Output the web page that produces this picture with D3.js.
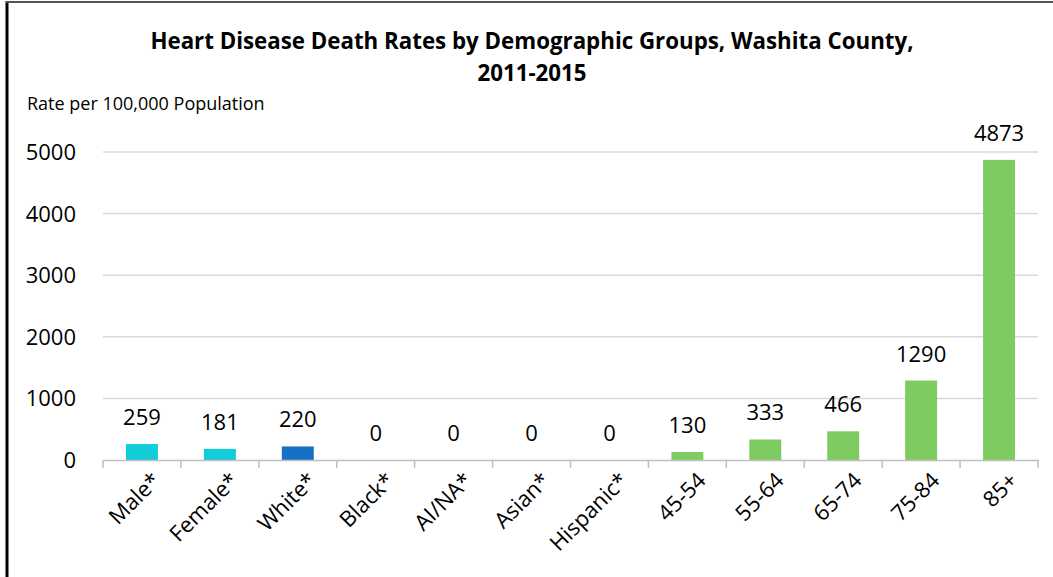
<!DOCTYPE html>
<html>
<head>
<meta charset="utf-8">
<script src="https://cdnjs.cloudflare.com/ajax/libs/d3/7.8.5/d3.min.js"></script>
<style>
body{margin:0;background:#fff;}
svg{display:block;font-family:"Open Sans",sans-serif;}
</style>
</head>
<body>
<div id="chart"></div>
<script>
// data
var categories=["Male*","Female*","White*","Black*","AI/NA*","Asian*","Hispanic*","45-54","55-64","65-74","75-84","85+"];
var rates=[259,181,220,0,0,0,0,130,333,466,1290,4873];
var groups=["sex","sex","race","race","race","race","race","age","age","age","age","age"];
var yTicks=[0,1000,2000,3000,4000,5000];
var titleLines=["Heart Disease Death Rates by Demographic Groups, Washita County,","2011-2015"];
var yLabel="Rate per 100,000 Population";

var W=1053,H=577;
var left=103,right=1038,top_=152,bottom=460;
var colors={"sex":"#12CDD8","race":"#1570C6","age":"#7ECB62"};

var svg=d3.select("#chart").append("svg")
	.attr("width",W)
	.attr("height",H);

// frame lines (left + top)
svg.append("line").attr("x1",7).attr("x2",7).attr("y1",1).attr("y2",H).attr("stroke","#000").attr("stroke-width",3);
svg.append("line").attr("x1",6).attr("x2",W).attr("y1",2).attr("y2",2).attr("stroke","#555").attr("stroke-width",2);

var x=d3.scaleBand()
	.domain(categories)
	.range([left,right])
	.paddingInner(0.59)
	.paddingOuter(0.295);
var y=d3.scaleLinear()
	.domain([0,5000])
	.range([bottom,top_]);

// gridlines
svg.append("g").selectAll("line")
	.data(yTicks.filter(function(d){return d>0;}))
	.enter().append("line")
	.attr("x1",left).attr("x2",right)
	.attr("y1",function(d){return y(d);})
	.attr("y2",function(d){return y(d);})
	.attr("stroke","#D9D9D9")
	.attr("stroke-width",1.5);

// y axis labels
svg.append("g").selectAll("text")
	.data(yTicks)
	.enter().append("text")
	.attr("x",76)
	.attr("y",function(d){return y(d);})
	.attr("dy","0.36em")
	.attr("text-anchor","end")
	.attr("font-size",22)
	.attr("fill","#000")
	.text(function(d){return d;});

// bars
svg.append("g").selectAll("rect")
	.data(rates)
	.enter().append("rect")
	.attr("x",function(d,i){return x(categories[i]);})
	.attr("width",x.bandwidth())
	.attr("y",function(d){return y(d);})
	.attr("height",function(d){return bottom-y(d);})
	.attr("fill",function(d,i){return colors[groups[i]];});

// value labels
svg.append("g").selectAll("text")
	.data(rates)
	.enter().append("text")
	.attr("x",function(d,i){return x(categories[i])+x.bandwidth()/2;})
	.attr("y",function(d){return y(d)-19;})
	.attr("text-anchor","middle")
	.attr("font-size",22)
	.attr("fill","#000")
	.text(function(d){return d;});

// x axis
var xAxis=d3.axisBottom(x).tickSize(0).tickFormat("");
var gx=svg.append("g")
	.attr("transform","translate(0,"+bottom+")")
	.call(xAxis);
gx.select(".domain").attr("stroke","#BFBFBF").attr("stroke-width",1.5);
// tick marks at band edges
var step=x.step();
var edges=d3.range(categories.length+1).map(function(i){return left+i*step;});
svg.append("g").selectAll("line")
	.data(edges)
	.enter().append("line")
	.attr("x1",function(d){return d;}).attr("x2",function(d){return d;})
	.attr("y1",bottom).attr("y2",bottom+8)
	.attr("stroke","#BFBFBF").attr("stroke-width",1.5);

svg.append("g").selectAll("text")
	.data(categories)
	.enter().append("text")
	.attr("transform",function(d){
		var cx=x(d)+x.bandwidth()/2+9;
		return "translate("+cx+","+(bottom+11)+") rotate(-45)";
	})
	.attr("text-anchor","end")
	.attr("dy","0.7em")
	.attr("font-size",22)
	.attr("fill","#000")
	.text(function(d){return d;});

// title
svg.append("g").selectAll("text")
	.data(titleLines)
	.enter().append("text")
	.attr("x",532)
	.attr("y",function(d,i){return 49+i*32;})
	.attr("text-anchor","middle")
	.attr("font-size",22.3)
	.attr("font-weight","bold")
	.attr("fill","#000")
	.text(function(d){return d;});

svg.append("text")
	.attr("x",27)
	.attr("y",110)
	.attr("font-size",18)
	.attr("fill","#000")
	.text(yLabel);
</script>
</body>
</html>
